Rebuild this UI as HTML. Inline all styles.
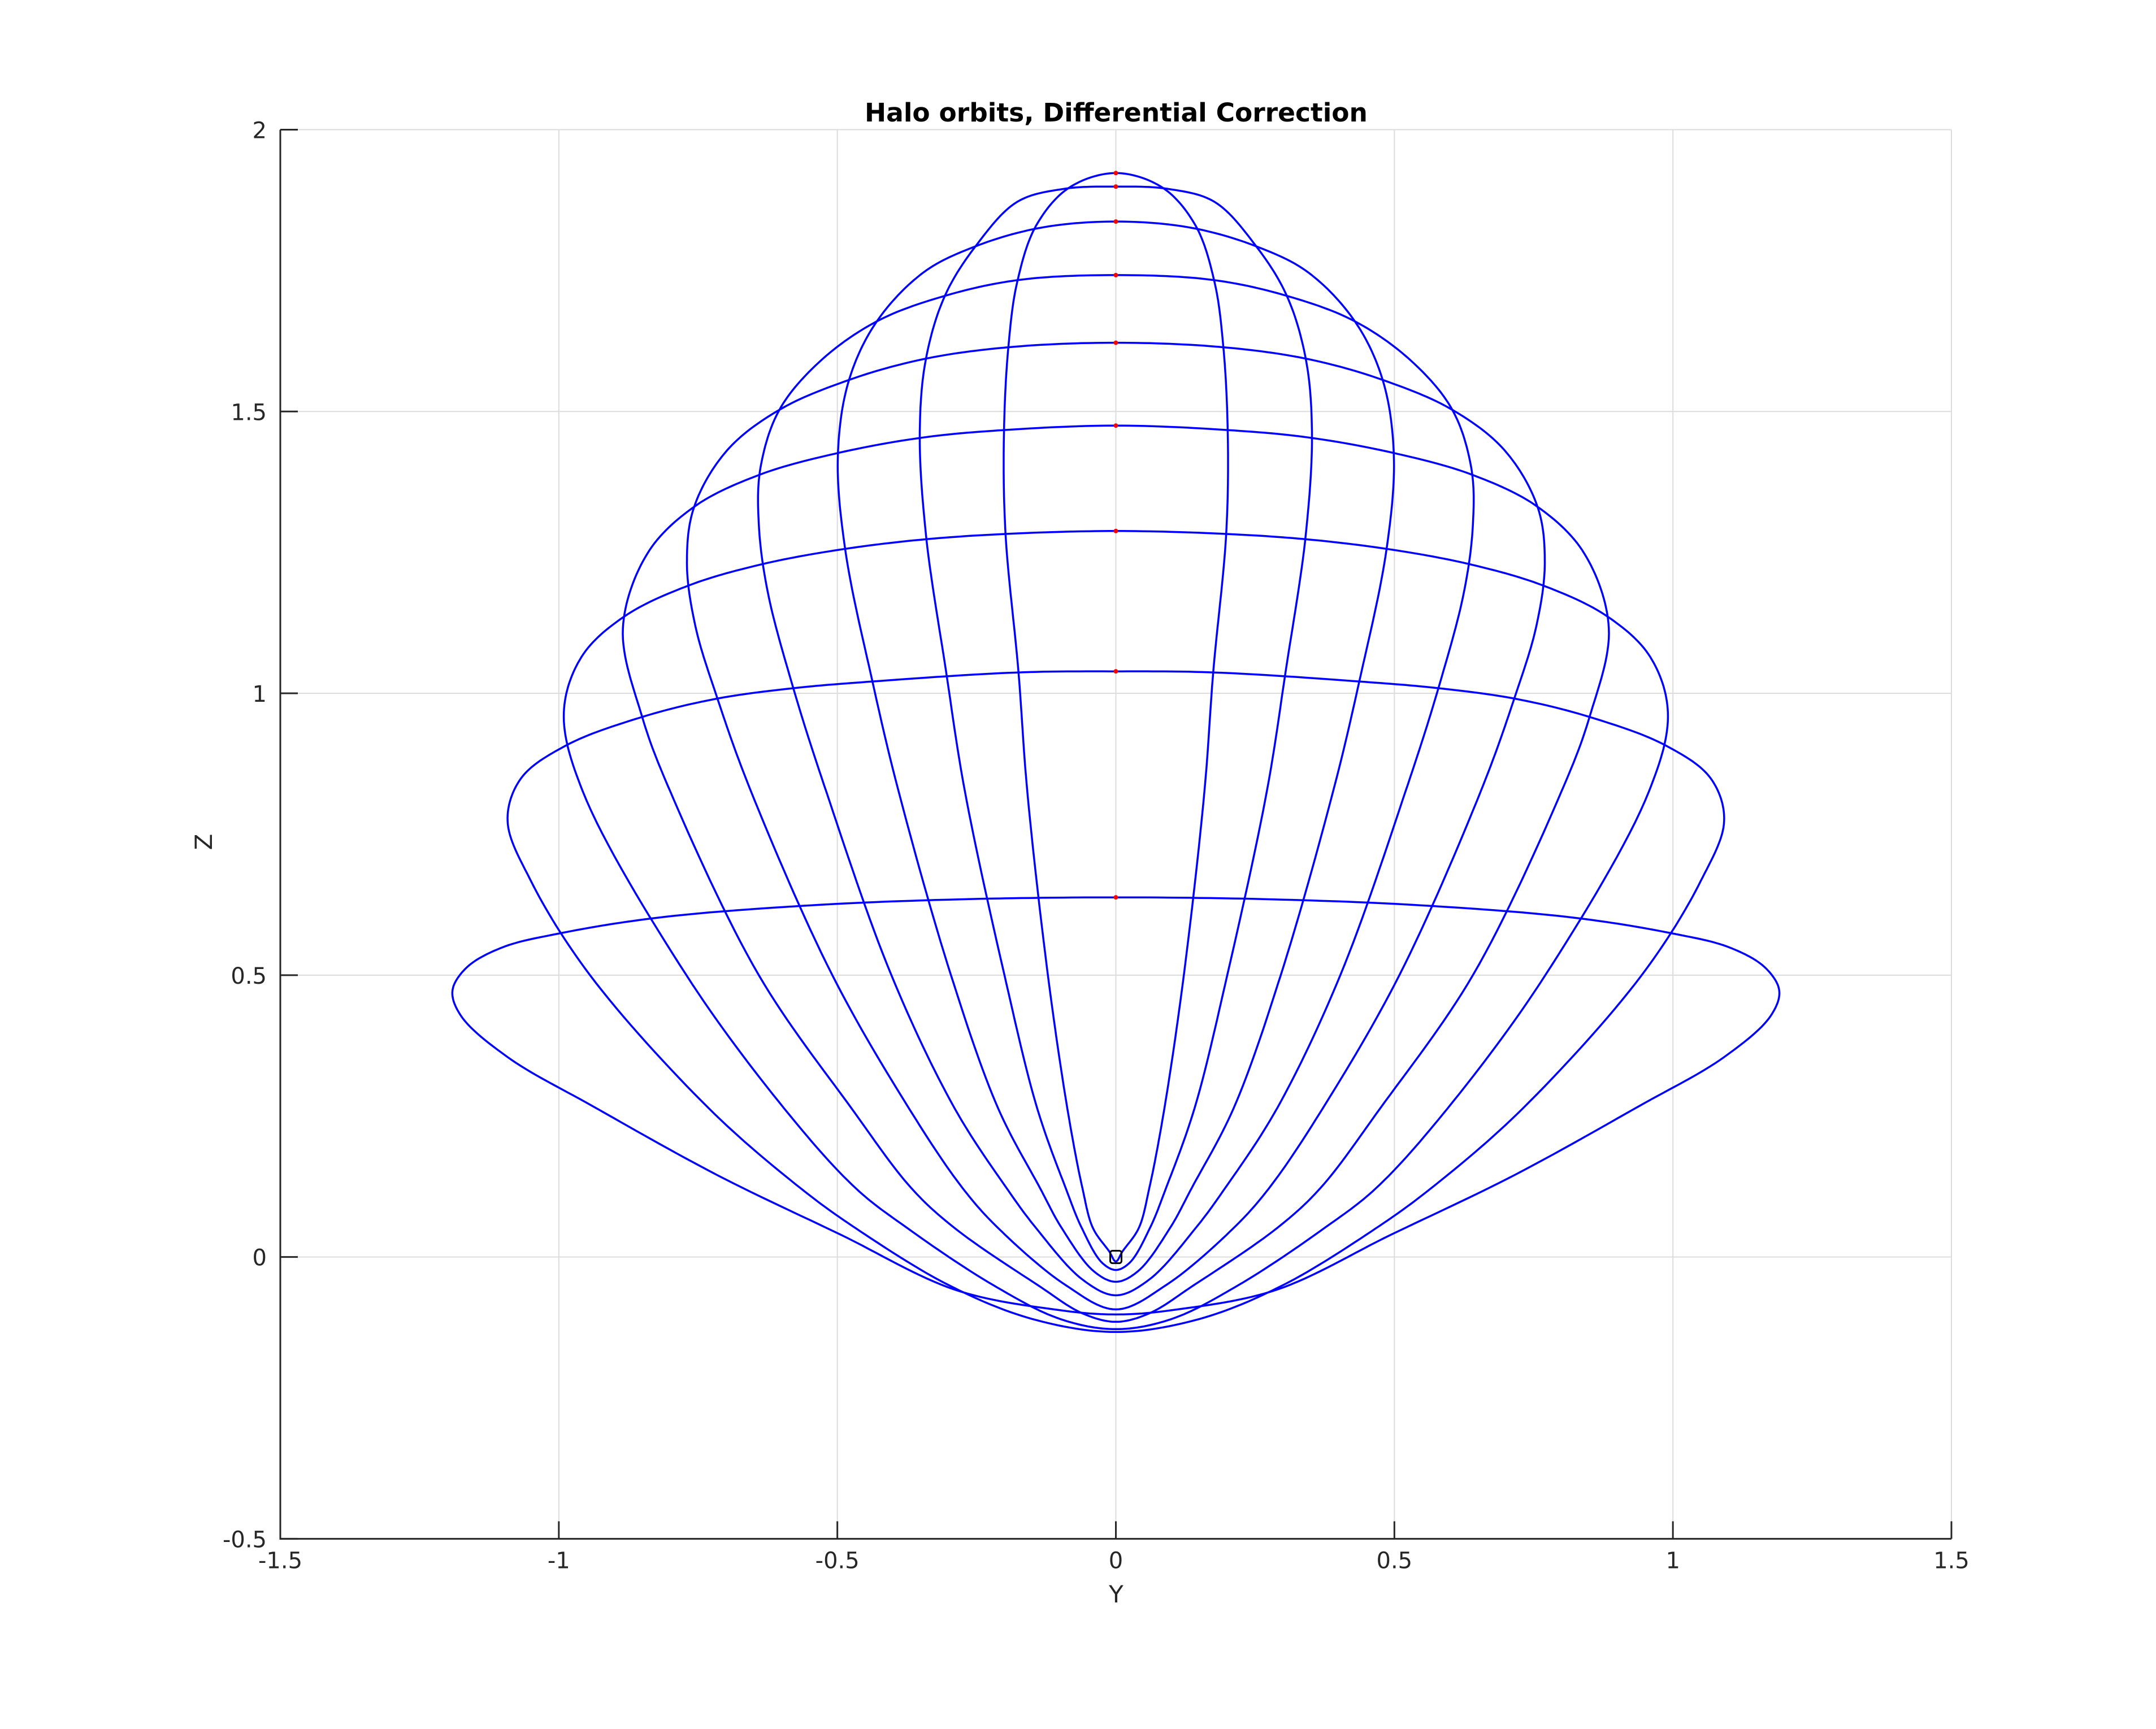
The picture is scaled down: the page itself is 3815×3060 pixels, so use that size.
<!DOCTYPE html>
<html><head><meta charset="utf-8"><style>
html,body{margin:0;padding:0;background:#fff;}
svg{display:block;}
text{font-family:"DejaVu Sans","Liberation Sans",sans-serif;fill:#262626;}
</style></head><body>
<svg id="chart" width="3815" height="3060" viewBox="0 0 3815 3060" xmlns="http://www.w3.org/2000/svg">
<rect x="0" y="0" width="3815" height="3060" fill="#fff"/>
<g id="grid"></g>
<g id="orbits"></g>
<g id="marks"></g>
<g id="axes"></g>
<text x="1975" y="215" text-anchor="middle" font-size="45.5" font-weight="bold" style="fill:#000">Halo orbits, Differential Correction</text>
<text x="1975" y="2836" text-anchor="middle" font-size="42">Y</text>
<text x="375" y="1490" text-anchor="middle" font-size="42" transform="rotate(-90 375 1490)">Z</text>
</svg>
<script>
const xTicks=[-1.5,-1,-0.5,0,0.5,1,1.5];
const xTickLabels=["-1.5","-1","-0.5","0","0.5","1","1.5"];
const yTicks=[-0.5,0,0.5,1,1.5,2];
const yTickLabels=["-0.5","0","0.5","1","1.5","2"];
const orbit1=[[0,.638],[.3,.634],[.563,.623],[.822,.602],[.994,.575],[1.102,.549],[1.166,.513],[1.191,.472],[1.175,.427],[1.091,.354],[.94,.268],[.715,.145],[.495,.04],[.289,-.058],[.111,-.093],[0,-.102]];
const orbit2=[[0,1.039],[.177,1.037],[.437,1.021],[.58,1.009],[.719,.99],[.854,.957],[.988,.907],[1.068,.849],[1.092,.774],[1.05,.667],[.944,.5],[.73,.263],[.566,.122],[.467,.051],[.3,-.05],[.15,-.11],[0,-.133]];
const orbit3=[[0,1.288],[.193,1.283],[.345,1.273],[.488,1.256],[.631,1.23],[.765,1.192],[.883,1.136],[.959,1.065],[.991,.966],[.957,.826],[.771,.5],[.595,.263],[.467,.122],[.374,.051],[.22,-.05],[.1,-.11],[0,-.128]];
const orbit4=[[0,1.475],[.202,1.467],[.345,1.454],[.496,1.427],[.639,1.388],[.757,1.331],[.841,1.248],[.885,1.115],[.85,.957],[.8,.826],[.641,.5],[.474,.263],[.367,.122],[.289,.051],[.14,-.05],[.06,-.1],[0,-.115]];
const orbit5=[[0,1.622],[.193,1.614],[.345,1.593],[.479,1.556],[.604,1.503],[.698,1.431],[.757,1.331],[.77,1.232],[.755,1.12],[.715,.99],[.655,.826],[.509,.5],[.371,.263],[.275,.122],[.211,.051],[.09,-.05],[0,-.093]];
const orbit6=[[0,1.742],[.177,1.733],[.311,1.704],[.429,1.66],[.53,1.59],[.604,1.503],[.638,1.40],[.641,1.3],[.625,1.18],[.579,1.009],[.52,.826],[.403,.5],[.289,.263],[.196,.122],[.143,.051],[.06,-.04],[0,-.068]];
const orbit7=[[0,1.837],[.135,1.826],[.252,1.793],[.345,1.747],[.429,1.66],[.479,1.556],[.499,1.423],[.486,1.256],[.437,1.021],[.39,.826],[.296,.5],[.211,.263],[.136,.122],[.097,.051],[.04,-.025],[0,-.044]];
const orbit8=[[0,1.899],[.093,1.895],[.177,1.872],[.252,1.793],[.307,1.705],[.341,1.593],[.352,1.464],[.341,1.282],[.305,1.04],[.271,.826],[.2,.5],[.141,.263],[.09,.122],[.061,.051],[.025,-.01],[0,-.023]];
const orbit9=[[0,1.923],[.084,1.897],[.143,1.83],[.177,1.73],[.193,1.614],[.201,1.456],[.198,1.282],[.175,1.04],[.159,.826],[.122,.5],[.087,.263],[.06,.122],[.041,.051],[.012,.01],[0,-.008]];
const orbits=[orbit1,orbit2,orbit3,orbit4,orbit5,orbit6,orbit7,orbit8,orbit9];

const L=496,R=3453,T=229.5,B=2723.4;
const X0=-1.5,X1=1.5,Y0=-0.5,Y1=2;
const sx=v=>L+(v-X0)/(X1-X0)*(R-L);
const sy=v=>B-(v-Y0)/(Y1-Y0)*(B-T);
const NS="http://www.w3.org/2000/svg";
function mk(tag,attrs,parent){const e=document.createElementNS(NS,tag);for(const k in attrs)e.setAttribute(k,attrs[k]);parent.appendChild(e);return e;}
const grid=document.getElementById('grid'),axes=document.getElementById('axes'),og=document.getElementById('orbits'),mg=document.getElementById('marks');
xTicks.forEach((t,i)=>{
  const g=mk('line',{x1:sx(t),x2:sx(t),y1:T,y2:B,stroke:'#dcdcdc','stroke-width':2},grid);
  
  
  const tk=mk('line',{x1:sx(t),x2:sx(t),y1:B,y2:B-31,stroke:'#262626','stroke-width':3},axes);
  
  
  const tx=mk('text',{x:sx(t),y:B+52,'text-anchor':'middle','font-size':40},axes);
  tx.textContent=xTickLabels[i];
  
  
});
yTicks.forEach((t,i)=>{
  const g=mk('line',{x1:L,x2:R,y1:sy(t),y2:sy(t),stroke:'#dcdcdc','stroke-width':2},grid);
  
  
  const tk=mk('line',{x1:L,x2:L+31,y1:sy(t),y2:sy(t),stroke:'#262626','stroke-width':3},axes);
  
  
  const tx=mk('text',{x:L-24,y:sy(t)+15,'text-anchor':'end','font-size':40},axes);
  tx.textContent=yTickLabels[i];
  
  
});
const ax=mk('path',{d:`M${L} ${T}L${L} ${B}L${R} ${B}`,fill:'none',stroke:'#262626','stroke-width':3},axes);



function crPoint(p0,p1,p2,p3,t){
  const d=(a,b)=>Math.pow(Math.hypot(b[0]-a[0],b[1]-a[1])||1e-6,0.5);
  const t0=0,t1=t0+d(p0,p1),t2=t1+d(p1,p2),t3=t2+d(p2,p3);
  const tt=t1+(t2-t1)*t;
  const lerp=(a,b,ta,tb)=>[ (tb-tt)/(tb-ta)*a[0]+(tt-ta)/(tb-ta)*b[0], (tb-tt)/(tb-ta)*a[1]+(tt-ta)/(tb-ta)*b[1] ];
  const A1=lerp(p0,p1,t0,t1),A2=lerp(p1,p2,t1,t2),A3=lerp(p2,p3,t2,t3);
  const B1=lerp(A1,A2,t0,t2),B2=lerp(A2,A3,t1,t3);
  return lerp(B1,B2,t1,t2);
}
function closedPath(pts){
  const n=pts.length;let d='';
  for(let i=0;i<n;i++){
    const p0=pts[(i-1+n)%n],p1=pts[i],p2=pts[(i+1)%n],p3=pts[(i+2)%n];
    for(let s=0;s<16;s++){
      const q=crPoint(p0,p1,p2,p3,s/16);
      d+=(d?'L':'M')+q[0].toFixed(1)+' '+q[1].toFixed(1);
    }
  }
  return d+'Z';
}
orbits.forEach((o,k)=>{
  const right=o.map(p=>[sx(p[0]),sy(p[1])]);
  const left=o.slice(1,-1).reverse().map(p=>[sx(-p[0]),sy(p[1])]);
  const pts=right.concat(left);
  const p=mk('path',{d:closedPath(pts),fill:'none',stroke:'#0000ff','stroke-width':3.5,'stroke-linejoin':'round'},og);
  
  
  const c=mk('circle',{cx:sx(0),cy:sy(o[0][1]),r:4,fill:'#ff0000'},mg);
  
  
});
const sq=mk('rect',{x:sx(0)-10,y:sy(0)-11,width:20,height:22,rx:4,fill:'none',stroke:'#000','stroke-width':3},mg);


</script>
</body></html>
